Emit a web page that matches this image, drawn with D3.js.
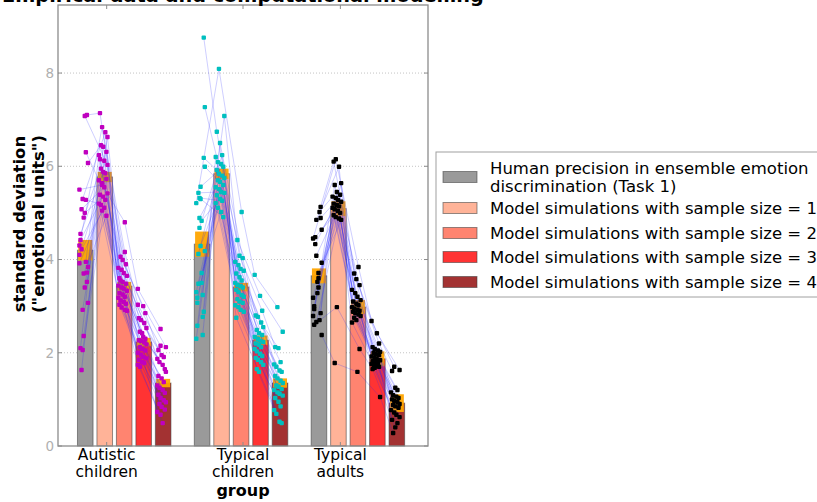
<!DOCTYPE html>
<html>
<head>
<meta charset="utf-8">
<script src="https://d3js.org/d3.v7.min.js"></script>
<style>
  body { margin: 0; background: #fff; }
  svg { font-family: "DejaVu Sans", sans-serif; }
</style>
</head>
<body>
<div id="chart"></div>
<script>
// group names and legend entries
var groups = ["Autistic\nchildren", "Typical\nchildren", "Typical\nadults"];
var groupTicks = [1.5, 8.5, 13.5];
var conditions = [
  "Human precision in ensemble emotion\ndiscrimination (Task 1)",
  "Model simulations with sample size = 1",
  "Model simulations with sample size = 2",
  "Model simulations with sample size = 3",
  "Model simulations with sample size = 4"
];
var yTicks = [0, 2, 4, 6, 8];

// bar means and error (per group, per condition)
var means = [
  [4.2, 5.77, 3.43, 2.23, 1.35],
  [4.33, 5.84, 3.41, 2.27, 1.35],
  [3.65, 5.09, 2.98, 1.87, 0.92]
];
var errors = [
  [0.22, 0.11, 0.09, 0.09, 0.09],
  [0.27, 0.11, 0.09, 0.10, 0.10],
  [0.16, 0.16, 0.15, 0.16, 0.19]
];

// individual subjects, autistic children
var autHuman = [4.3, 7.1, 3.4, 5.3, 2.1, 6.07, 3.95, 4.9, 1.63, 5.5, 3.72, 7.08, 2.92, 4.55, 3.84, 6.3, 2.36, 5.08, 4.1, 3.52, 5.0, 2.06, 4.42, 3.07, 5.28, 3.7, 4.22, 3.92];
var autS1 = [6.84, 7.14, 6.63, 6.73, 6.42, 6.45, 6.24, 6.31, 6.12, 5.6, 6.15, 6.03, 5.85, 5.88, 5.95, 5.7, 5.73, 5.55, 5.64, 5.39, 5.42, 5.28, 5.35, 5.17, 5.2, 4.94, 5.11, 5.05];
var autS2 = [4.16, 3.99, 4.06, 3.82, 3.9, 3.71, 3.78, 3.6, 3.65, 4.8, 3.52, 3.55, 3.44, 3.48, 3.38, 3.4, 3.28, 3.33, 3.2, 3.25, 3.12, 3.18, 3.05, 3.09, 2.97, 3.03, 2.9, 2.92];
var autS3 = [3.03, 2.85, 3.0, 2.7, 2.74, 2.53, 2.64, 2.42, 2.45, 3.37, 2.3, 2.34, 2.25, 2.27, 2.18, 2.22, 2.08, 2.12, 2.0, 2.05, 1.91, 1.96, 1.85, 1.88, 1.78, 1.8, 1.7, 1.74];
var autS4 = [2.15, 2.06, 2.12, 1.91, 1.95, 1.8, 1.87, 1.65, 1.74, 2.51, 1.5, 1.59, 1.37, 1.45, 1.25, 1.3, 1.14, 1.2, 1.03, 1.1, 0.94, 0.98, 0.84, 0.9, 0.73, 0.78, 0.49, 0.67];

// typical children
var tcHuman = [5.21, 8.76, 3.5, 4.68, 2.58, 7.27, 3.24, 5.56, 4.12, 2.3, 6.18, 3.71, 4.89, 3.07, 5.99, 2.77, 4.29, 5.43, 3.3, 2.88, 4.83, 5.32, 3.18, 4.18, 2.38, 5.3, 3.48];
var tcS1 = [8.09, 6.74, 7.08, 6.24, 6.5, 6.09, 6.2, 5.99, 6.05, 5.84, 5.92, 5.75, 5.8, 5.67, 5.7, 5.55, 5.6, 5.45, 5.51, 5.38, 5.43, 5.26, 5.3, 5.11, 5.21, 4.91, 5.02];
var tcS2 = [5.02, 4.08, 4.42, 3.95, 4.03, 3.8, 3.88, 3.7, 3.76, 3.55, 3.62, 3.46, 3.5, 3.4, 3.43, 3.3, 3.35, 3.2, 3.24, 3.1, 3.15, 3.02, 3.07, 2.92, 2.98, 2.75, 2.88];
var tcS3 = [3.67, 2.9, 3.22, 2.77, 2.8, 2.55, 2.65, 2.42, 2.49, 2.34, 2.38, 2.26, 2.3, 2.2, 2.23, 2.12, 2.17, 2.03, 2.08, 1.93, 1.98, 1.85, 1.89, 1.74, 1.8, 1.59, 1.65];
var tcS4 = [2.98, 2.12, 2.45, 1.8, 2.1, 1.7, 1.75, 1.59, 1.62, 1.45, 1.5, 1.35, 1.4, 1.27, 1.3, 1.2, 1.22, 1.12, 1.15, 1.03, 1.08, 0.85, 0.95, 0.69, 0.77, 0.49, 0.52];

// typical adults
var adHuman = [4.45, 5.13, 3.6, 4.85, 2.94, 3.93, 5.02, 3.28, 4.33, 2.79, 4.89, 3.4, 4.08, 3.0, 4.64, 2.7, 3.52, 4.48, 3.18, 2.85, 3.71, 2.66, 2.6, 2.38];
var adS1 = [6.15, 6.1, 5.64, 5.99, 5.45, 5.6, 5.35, 5.39, 5.28, 5.32, 5.2, 5.24, 5.14, 5.17, 5.08, 5.11, 5.0, 5.04, 4.91, 4.95, 4.85, 4.88, 2.98, 1.78];
var adS2 = [3.84, 3.58, 3.7, 3.35, 3.45, 3.2, 3.28, 3.1, 3.13, 3.02, 3.05, 2.95, 2.98, 2.9, 2.92, 2.85, 2.88, 2.79, 2.82, 2.7, 2.75, 2.65, 2.08, 1.59];
var adS3 = [2.68, 2.2, 2.42, 2.08, 2.12, 2.02, 2.05, 1.97, 2.0, 1.92, 1.95, 1.86, 1.89, 1.82, 1.84, 1.78, 1.8, 1.74, 1.76, 1.7, 1.72, 1.68, 1.65, 1.05];
var adS4 = [1.7, 1.61, 1.63, 1.2, 1.25, 1.09, 1.15, 1.03, 1.06, 0.97, 1.0, 0.9, 0.94, 0.85, 0.88, 0.77, 0.82, 0.67, 0.72, 0.56, 0.62, 0.49, 0.4, 0.28];

var subjects = [
  [autHuman, autS1, autS2, autS3, autS4],
  [tcHuman, tcS1, tcS2, tcS3, tcS4],
  [adHuman, adS1, adS2, adS3, adS4]
];

var barColors = ["#9a9a9a", "#ffb398", "#ff8470", "#ff3333", "#a33232"];
var dotColors = ["#bf00bf", "#00bfbf", "#000000"];

// 1: svg
var W = 817, H = 502;
var svg = d3.select("#chart").append("svg")
    .attr("width", W)
    .attr("height", H);

var plot = {left: 58, right: 428, top: 5, bottom: 446};

// 2: scales
var x = d3.scaleLinear().domain([-1, 18]).range([plot.left, plot.right]);
var y = d3.scaleLinear().domain([0, 9.46]).range([plot.bottom, plot.top]);
var barW = 0.8, groupStep = 6;

function slot(g, k) { return g * groupStep + k; }

// 3: grid
svg.append("g").selectAll("line")
    .data(yTicks.filter(function(d) { return d > 0; }))
    .enter().append("line")
    .attr("x1", plot.left).attr("x2", plot.right)
    .attr("y1", function(d) { return y(d); })
    .attr("y2", function(d) { return y(d); })
    .style("stroke", "#c4c4c4")
    .style("stroke-dasharray", "1,2");

// 4: bars
var barData = [];
means.forEach(function(row, g) {
  row.forEach(function(m, k) {
    barData.push({g: g, k: k, mean: m, err: errors[g][k]});
  });
});

svg.append("g").selectAll("rect")
    .data(barData)
  .enter().append("rect")
    .attr("x", function(d) { return x(slot(d.g, d.k)); })
    .attr("width", x(barW) - x(0))
    .attr("y", function(d) { return y(d.mean); })
    .attr("height", function(d) { return y(0) - y(d.mean); })
    .style("fill", function(d) { return barColors[d.k]; })
    .style("stroke", "rgba(60,60,60,0.55)")
    .style("stroke-width", 1);

// error boxes
var errW = x(0.72) - x(0);
svg.append("g").selectAll("rect")
    .data(barData)
  .enter().append("rect")
    .attr("x", function(d) { return x(slot(d.g, d.k) + barW / 2) - errW / 2; })
    .attr("width", errW)
    .attr("y", function(d) { return y(d.mean + d.err); })
    .attr("height", function(d) { return y(d.mean - d.err) - y(d.mean + d.err); })
    .style("fill", "#ffa500")
    .style("opacity", 0.95);

// 5: subjects, lines then dots
function jitter(i) { return (((i * 7) % 9) - 4) / 4 * 0.22; }

subjects.forEach(function(cols, g) {
  var n = cols[0].length;
  var pts = d3.range(n).map(function(i) {
    return cols.map(function(col, k) {
      return [x(slot(g, k) + 0.32 + jitter(i + k * 3)), y(col[i])];
    });
  });

  svg.append("g").selectAll("path")
      .data(pts)
    .enter().append("path")
      .attr("d", d3.line())
      .style("fill", "none")
      .style("stroke", "rgb(30,30,255)")
      .style("stroke-opacity", 0.22)
      .style("stroke-width", 1);

  var flat = [];
  pts.forEach(function(p) { p.forEach(function(q) { flat.push(q); }); });
  svg.append("g").selectAll("rect")
      .data(flat)
    .enter().append("rect")
      .attr("x", function(d) { return d[0] - 2.2; })
      .attr("y", function(d) { return d[1] - 2.2; })
      .attr("width", 4.4).attr("height", 4.4)
      .attr("rx", 1)
      .style("fill", dotColors[g]);
});

// 6: frame and ticks
svg.append("rect")
    .attr("x", plot.left).attr("y", plot.top)
    .attr("width", plot.right - plot.left)
    .attr("height", plot.bottom - plot.top)
    .style("fill", "none")
    .style("stroke", "#8c8c8c")
    .style("stroke-width", 1.3);

var tickG = svg.append("g").style("stroke", "#8c8c8c");
yTicks.forEach(function(t) {
  tickG.append("line").attr("x1", plot.left).attr("x2", plot.left + 4)
    .attr("y1", y(t)).attr("y2", y(t));
  tickG.append("line").attr("x1", plot.right).attr("x2", plot.right - 4)
    .attr("y1", y(t)).attr("y2", y(t));
});
groupTicks.forEach(function(t) {
  tickG.append("line").attr("x1", x(t)).attr("x2", x(t))
    .attr("y1", plot.top).attr("y2", plot.top + 4);
  tickG.append("line").attr("x1", x(t)).attr("x2", x(t))
    .attr("y1", plot.bottom).attr("y2", plot.bottom - 4);
});

svg.append("g").selectAll("text")
    .data(yTicks)
  .enter().append("text")
    .attr("x", plot.left - 4)
    .attr("y", function(d) { return y(d); })
    .attr("dy", "0.36em")
    .attr("text-anchor", "end")
    .style("font-size", "13.5px")
    .style("fill", "#b0b0b0")
    .text(function(d) { return d; });

// x tick labels
groups.forEach(function(name, g) {
  var t = svg.append("text")
      .attr("text-anchor", "middle")
      .style("font-size", "15.5px")
      .style("fill", "#000");
  name.split("\n").forEach(function(line, j) {
    t.append("tspan").attr("x", x(groupTicks[g])).attr("y", 460 + j * 17).text(line);
  });
});

svg.append("text")
    .attr("x", x(8.5)).attr("y", 496)
    .attr("text-anchor", "middle")
    .style("font-size", "16px")
    .style("font-weight", "bold")
    .text("group");

// y label
var yl = svg.append("text")
    .attr("transform", "translate(0,224) rotate(-90)")
    .attr("text-anchor", "middle")
    .style("font-size", "16.5px")
    .style("font-weight", "bold");
yl.append("tspan").attr("x", 0).attr("y", 25).text("standard deviation");
yl.append("tspan").attr("x", 0).attr("y", 44).text("(\"emotional units\")");

// title
svg.append("text")
    .attr("x", (plot.left + plot.right) / 2).attr("y", 1.5)
    .attr("text-anchor", "middle")
    .style("font-size", "19.3px")
    .style("font-weight", "bold")
    .text("Empirical data and computational modelling");

// 7: legend
var leg = svg.append("g");
leg.append("rect")
    .attr("x", 436).attr("y", 152)
    .attr("width", 420).attr("height", 145)
    .style("fill", "#fff")
    .style("stroke", "#a0a0a0")
    .style("stroke-width", 1);

var rowY = [177, 208, 233, 257, 282];
conditions.forEach(function(label, k) {
  leg.append("rect")
      .attr("x", 443).attr("y", rowY[k] - 5.5)
      .attr("width", 34).attr("height", 11)
      .style("fill", barColors[k])
      .style("stroke", "rgba(60,60,60,0.55)");
  var lines = label.split("\n");
  var t = leg.append("text").style("font-size", "16.5px");
  lines.forEach(function(line, j) {
    t.append("tspan")
      .attr("x", 490)
      .attr("y", rowY[k] + 5.5 - (lines.length - 1) * 9 + j * 18)
      .text(line);
  });
});
</script>
</body>
</html>
